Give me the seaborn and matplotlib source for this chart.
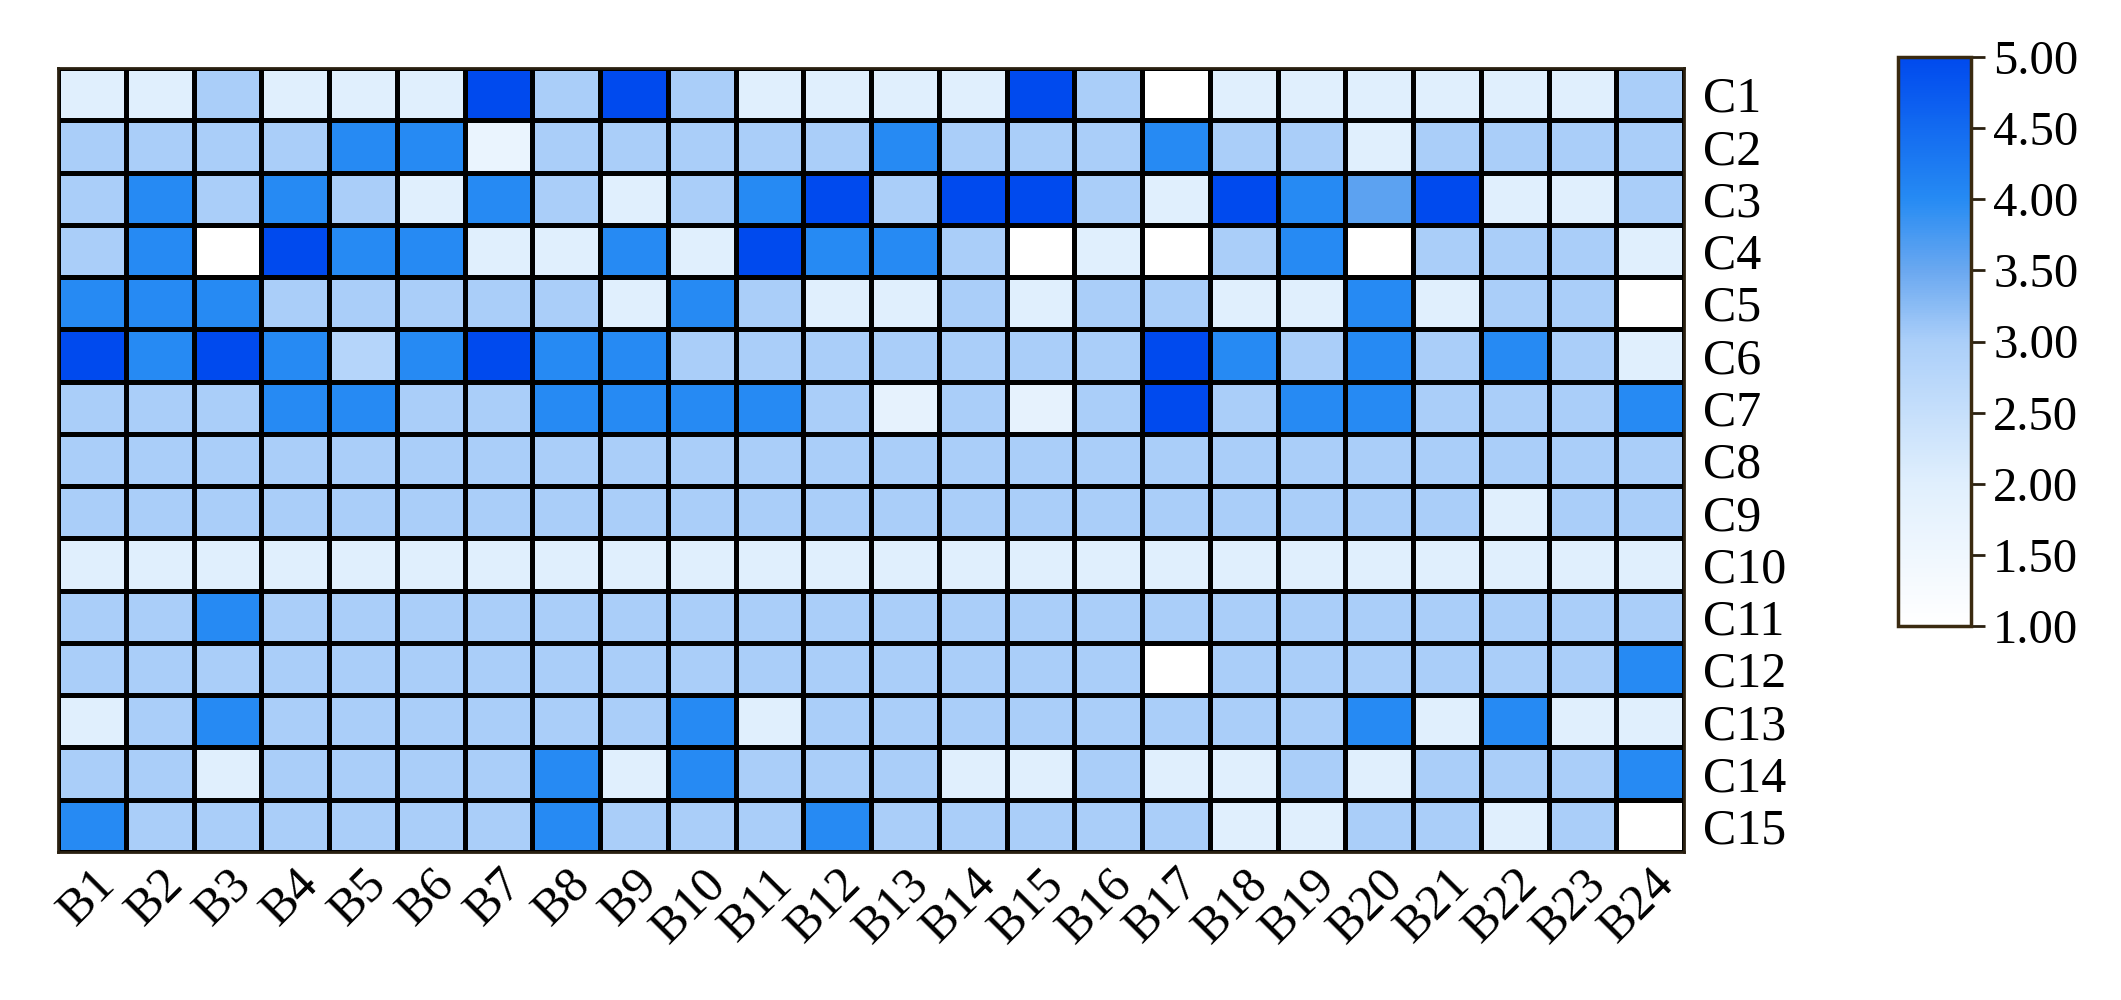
import matplotlib
matplotlib.use('Agg')
import matplotlib.pyplot as plt
from matplotlib.colors import LinearSegmentedColormap
import seaborn as sns
import numpy as np
import pandas as pd

# column / row labels
cols = [f'B{i}' for i in range(1, 25)]
rows = [f'C{i}' for i in range(1, 16)]

# cell values, one list per row
c1 = [2, 2, 3, 2, 2, 2, 5, 3, 5, 3, 2, 2, 2, 2, 5, 3, 1, 2, 2, 2, 2, 2, 2, 3]
c2 = [3, 3, 3, 3, 4, 4, 1.7, 3, 3, 3, 3, 3, 4, 3, 3, 3, 4, 3, 3, 2, 3, 3, 3, 3]
c3 = [3, 4, 3, 4, 3, 2, 4, 3, 2, 3, 4, 5, 3, 5, 5, 3, 2, 5, 4, 3.6, 5, 2, 2, 3]
c4 = [3, 4, 1, 5, 4, 4, 2, 2, 4, 2, 5, 4, 4, 3, 1, 2, 1, 3, 4, 1, 3, 3, 3, 2]
c5 = [4, 4, 4, 3, 3, 3, 3, 3, 2, 4, 3, 2, 2, 3, 2, 3, 3, 2, 2, 4, 2, 3, 3, 1]
c6 = [5, 4, 5, 4, 2.8, 4, 5, 4, 4, 3, 3, 3, 3, 3, 3, 3, 5, 4, 3, 4, 3, 4, 3, 2]
c7 = [3, 3, 3, 4, 4, 3, 3, 4, 4, 4, 4, 3, 1.8, 3, 1.8, 3, 5, 3, 4, 4, 3, 3, 3, 4]
c8 = [3] * 24
c9 = [3, 3, 3, 3, 3, 3, 3, 3, 3, 3, 3, 3, 3, 3, 3, 3, 3, 3, 3, 3, 3, 2, 3, 3]
c10 = [2] * 24
c11 = [3, 3, 4, 3, 3, 3, 3, 3, 3, 3, 3, 3, 3, 3, 3, 3, 3, 3, 3, 3, 3, 3, 3, 3]
c12 = [3, 3, 3, 3, 3, 3, 3, 3, 3, 3, 3, 3, 3, 3, 3, 3, 1, 3, 3, 3, 3, 3, 3, 4]
c13 = [2, 3, 4, 3, 3, 3, 3, 3, 3, 4, 2, 3, 3, 3, 3, 3, 3, 3, 3, 4, 2, 4, 2, 2]
c14 = [3, 3, 2, 3, 3, 3, 3, 4, 2, 4, 3, 3, 3, 2, 2, 3, 2, 2, 3, 2, 3, 3, 3, 4]
c15 = [4, 3, 3, 3, 3, 3, 3, 4, 3, 3, 3, 4, 3, 3, 3, 3, 3, 2, 2, 3, 3, 2, 3, 1]

df = pd.DataFrame([c1, c2, c3, c4, c5, c6, c7, c8, c9, c10, c11, c12, c13, c14, c15],
                  index=rows, columns=cols)

# white -> blue colour scale like the colour bar
cmap = LinearSegmentedColormap.from_list('wb', [
    (0.00, '#ffffff'),
    (0.25, '#e0effd'),
    (0.50, '#abcff9'),
    (0.625, '#6aa8f0'),
    (0.75, '#268bf3'),
    (1.00, '#004aee'),
])

sns.set_style('white')
plt.rcParams['font.family'] = ['Liberation Serif', 'DejaVu Serif']
plt.rcParams['text.color'] = 'black'
plt.rcParams['xtick.color'] = 'black'
plt.rcParams['ytick.color'] = 'black'

fig = plt.figure(figsize=(21.21, 10), dpi=100)
ax = fig.add_axes([58 / 2121, 1 - 852 / 1000, (1684 - 58) / 2121, (852 - 68) / 1000])
cax = fig.add_axes([1898 / 2121, 1 - 626 / 1000, 73 / 2121, 569 / 1000])

sns.heatmap(df, ax=ax, cbar_ax=cax, cmap=cmap, vmin=1, vmax=5,
            linewidths=3.5, linecolor='black',
            cbar_kws={'ticks': np.arange(1, 5.01, 0.5), 'format': '%.2f'})

# row labels on the right, rotated column labels below
ax.yaxis.tick_right()
ax.set_yticklabels(rows, rotation=0, fontsize=36)
ax.set_xticklabels(cols, rotation=45, ha='right', va='top',
                   rotation_mode='anchor', fontsize=36)
ax.tick_params(axis='both', length=0, labelcolor='black')
ax.tick_params(axis='y', pad=14)
ax.tick_params(axis='x', pad=6)
ax.set_xlabel('')
ax.set_ylabel('')
for s in ax.spines.values():
    s.set_visible(True)
    s.set_color('#2a2010')
    s.set_linewidth(2)

# colour bar styling
cb = ax.collections[0].colorbar
cb.outline.set_edgecolor('#3a2a10')
cb.outline.set_linewidth(2.5)
cax.tick_params(labelsize=35, length=10, width=2, color='#2a2010',
                labelcolor='black', pad=6)

fig.savefig('out.png', dpi=100)
